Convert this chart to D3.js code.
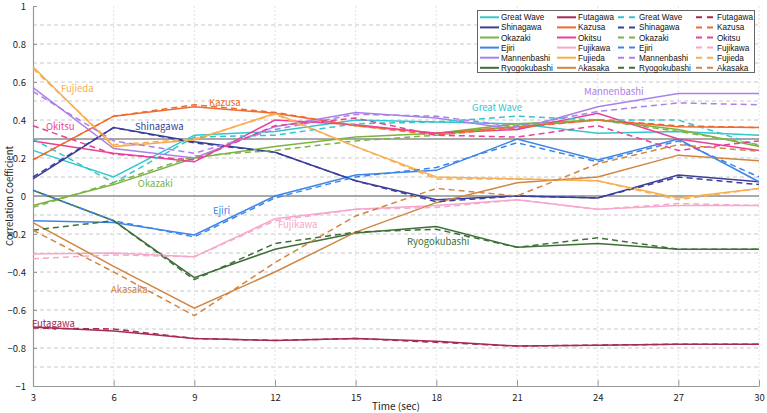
<!DOCTYPE html>
<html>
<head>
<meta charset="utf-8">
<script src="https://d3js.org/d3.v7.min.js"></script>
<style>
  body { margin: 0; background: #fff; }
  text { font-family: "Noto Sans CJK JP", "Noto Sans", sans-serif; }
</style>
</head>
<body>
<svg id="chart" width="767" height="413"></svg>
<script>
// time points (sec)
const times = [3, 6, 9, 12, 15, 18, 21, 24, 27, 30];
const names = ["Great Wave", "Shinagawa", "Okazaki", "Ejiri", "Mannenbashi", "Ryogokubashi",
               "Futagawa", "Kazusa", "Okitsu", "Fujikawa", "Fujieda", "Akasaka"];
const colors = ["#33c6cc", "#3b3f99", "#7cb342", "#3d85e8", "#aa80ea", "#3f6f38",
                "#a52a55", "#f06a30", "#ea4099", "#f7a6cc", "#f8ae52", "#d08540"];
// solid lines
const solidValues = [
  [0.24, 0.10, 0.32, 0.34, 0.40, 0.39, 0.38, 0.33, 0.34, 0.32],
  [0.09, 0.36, 0.285, 0.23, 0.08, -0.02, 0.00, -0.01, 0.11, 0.075],
  [-0.05, 0.06, 0.20, 0.26, 0.31, 0.33, 0.38, 0.40, 0.35, 0.26],
  [-0.13, -0.14, -0.205, 0.00, 0.11, 0.135, 0.30, 0.19, 0.30, 0.075],
  [0.57, 0.25, 0.20, 0.365, 0.44, 0.41, 0.35, 0.47, 0.54, 0.54],
  [0.03, -0.13, -0.43, -0.28, -0.195, -0.16, -0.27, -0.25, -0.28, -0.28],
  [-0.69, -0.71, -0.75, -0.76, -0.75, -0.765, -0.79, -0.785, -0.78, -0.78],
  [0.19, 0.42, 0.47, 0.435, 0.37, 0.33, 0.365, 0.40, 0.365, 0.36],
  [0.29, 0.225, 0.18, 0.40, 0.375, 0.33, 0.35, 0.435, 0.30, 0.24],
  [-0.305, -0.30, -0.32, -0.12, -0.07, -0.05, -0.02, -0.07, -0.05, -0.05],
  [0.68, 0.26, 0.295, 0.435, 0.26, 0.10, 0.09, 0.08, -0.01, 0.04],
  [-0.14, -0.37, -0.59, -0.40, -0.19, -0.035, 0.07, 0.10, 0.215, 0.185]
];
// dashed lines
const dashedValues = [
  [0.30, 0.07, 0.31, 0.32, 0.38, 0.39, 0.42, 0.40, 0.40, 0.265],
  [0.10, 0.36, 0.28, 0.23, 0.08, -0.03, 0.00, -0.01, 0.10, 0.06],
  [-0.06, 0.07, 0.21, 0.24, 0.29, 0.32, 0.37, 0.40, 0.34, 0.27],
  [0.03, -0.13, -0.215, -0.01, 0.10, 0.15, 0.28, 0.18, 0.29, 0.10],
  [0.55, 0.29, 0.225, 0.35, 0.43, 0.42, 0.365, 0.445, 0.49, 0.48],
  [-0.18, -0.13, -0.44, -0.25, -0.19, -0.175, -0.27, -0.22, -0.28, -0.28],
  [-0.695, -0.70, -0.75, -0.76, -0.75, -0.77, -0.79, -0.785, -0.78, -0.78],
  [0.19, 0.42, 0.48, 0.44, 0.37, 0.32, 0.36, 0.40, 0.37, 0.36],
  [0.37, 0.22, 0.19, 0.37, 0.41, 0.32, 0.31, 0.37, 0.24, 0.29],
  [-0.33, -0.31, -0.32, -0.13, -0.07, -0.06, -0.02, -0.07, -0.04, -0.05],
  [0.67, 0.27, 0.30, 0.43, 0.26, 0.09, 0.09, 0.08, -0.02, 0.04],
  [-0.18, -0.40, -0.63, -0.35, -0.105, 0.04, 0.00, 0.17, 0.27, 0.235]
];
// in-plot labels: [series index, time, value]
const labels = [
  [10, 4.04, 0.55], [7, 9.55, 0.476], [8, 3.48, 0.345], [1, 6.79, 0.345],
  [2, 6.9, 0.05], [0, 19.33, 0.445], [4, 23.49, 0.534], [3, 9.69, -0.097],
  [9, 12.11, -0.166], [5, 16.91, -0.26], [11, 5.9, -0.513], [6, 2.96, -0.687]
];

const svg = d3.select("#chart");
const x = d3.scaleLinear().domain([3, 30]).range([33, 759]);
const y = d3.scaleLinear().domain([-1, 1]).range([386, 6]);

// grid
const grid = svg.append("g");
grid.selectAll("line.h")
  .data(d3.range(-9, 10).filter(d => d !== 0 && d !== 3).map(d => d / 10))
  .join("line")
  .attr("x1", 33).attr("x2", 759)
  .attr("y1", d => y(d)).attr("y2", d => y(d))
  .attr("stroke", "#c8c8c8").attr("stroke-dasharray", "4,3");
grid.selectAll("line.v")
  .data(times.slice(1))
  .join("line")
  .attr("x1", d => x(d)).attr("x2", d => x(d))
  .attr("y1", 6).attr("y2", 386)
  .attr("stroke", "#e2e2e2").attr("stroke-dasharray", "2,2");
grid.selectAll("line.ref")
  .data([0, 0.3])
  .join("line")
  .attr("x1", 33).attr("x2", 759)
  .attr("y1", d => y(d)).attr("y2", d => y(d))
  .attr("stroke", "#8c8c8c").attr("stroke-width", 1.5);

// axes
const xAxis = svg.append("g").attr("transform", "translate(0,386)")
  .call(d3.axisBottom(x).tickValues(times).tickSizeInner(-6).tickSizeOuter(0).tickPadding(8));
const yAxis = svg.append("g").attr("transform", "translate(33,0)")
  .call(d3.axisLeft(y).tickValues(d3.range(-5, 6).map(d => d / 5)).tickSizeInner(-4).tickSizeOuter(0)
    .tickPadding(7).tickFormat(d => d3.format("")(+d.toFixed(1))));
[xAxis, yAxis].forEach(a => {
  a.select(".domain").attr("stroke", "#999").attr("stroke-width", 1.2);
  a.selectAll(".tick line").attr("stroke", "#999");
  a.selectAll("text").attr("font-size", 9.5).attr("fill", "#222");
});

svg.append("text").attr("x", 396).attr("y", 410).attr("text-anchor", "middle")
  .attr("font-size", 10).attr("fill", "#222").text("Time (sec)");
svg.append("text").attr("transform", "translate(13,196) rotate(-90)").attr("text-anchor", "middle")
  .attr("font-size", 9.5).attr("fill", "#222").text("Correlation Coefficient");

// lines
const line = d3.line().x((d, i) => x(times[i])).y(d => y(d));
const plot = svg.append("g");
plot.selectAll("path.solid")
  .data(solidValues)
  .join("path")
  .attr("d", line)
  .attr("fill", "none")
  .attr("stroke", (d, i) => colors[i])
  .attr("stroke-width", 1.5);
plot.selectAll("path.dash")
  .data(dashedValues)
  .join("path")
  .attr("d", line)
  .attr("fill", "none")
  .attr("stroke", (d, i) => colors[i])
  .attr("stroke-width", 1.5)
  .attr("stroke-dasharray", "6,4");

// in-plot labels
svg.append("g").selectAll("text")
  .data(labels)
  .join("text")
  .attr("x", d => x(d[1]))
  .attr("y", d => y(d[2]))
  .attr("font-size", 9.5)
  .attr("fill", d => colors[d[0]])
  .text(d => names[d[0]]);

// legend
const lg = svg.append("g");
lg.append("rect").attr("x", 477.5).attr("y", 10.5).attr("width", 277).attr("height", 62)
  .attr("fill", "#fff").attr("stroke", "#666");
const colX = [480, 557, 618, 696];
const entries = [];
names.forEach((n, i) => {
  entries.push({ name: n, color: colors[i], dashed: false, col: i < 6 ? 0 : 1, row: i % 6 });
});
names.forEach((n, i) => {
  entries.push({ name: n, color: colors[i], dashed: true, col: i < 6 ? 2 : 3, row: i % 6 });
});
const ent = lg.selectAll("g.e").data(entries).join("g")
  .attr("transform", d => `translate(${colX[d.col]},${17.3 + d.row * 10.1})`);
ent.append("line").attr("x1", 0).attr("x2", 19).attr("y1", 0).attr("y2", 0)
  .attr("stroke", d => d.color).attr("stroke-width", 2)
  .attr("stroke-dasharray", d => d.dashed ? "6,5" : null);
ent.append("text").attr("x", 21).attr("y", 3)
  .style("font-family", "'Liberation Sans', Arial, sans-serif")
  .attr("font-size", 8.2).attr("fill", "#111")
  .text(d => d.name);
</script>
</body>
</html>
